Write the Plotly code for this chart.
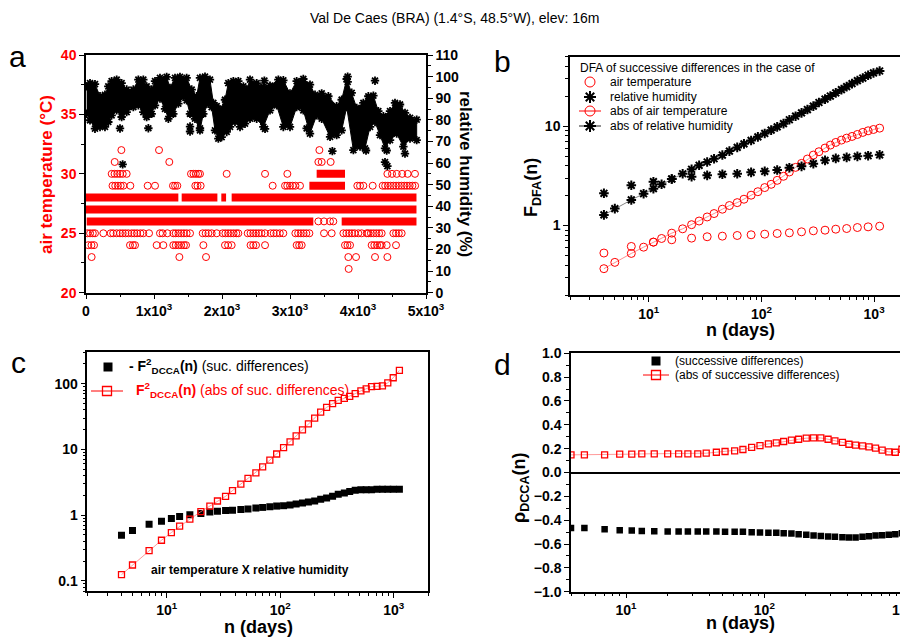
import numpy as np
import plotly.graph_objects as go

# the page adds an 8px body margin, so the figure is 8px smaller and every
# pixel position below is shifted by OFF
OFF = 8
W, H = 908 - OFF, 641 - OFF
FONT = "Liberation Sans, Arial, sans-serif"
RED = "#ff0000"

# ---------------- panel a : daily record ----------------
# long, nearly continuous rows of the temperature record: level -> (first day, last day)
temp_runs = {
    28: [(0, 1358), (1407, 1932), (1990, 2060), (2142, 4860)],
    27: [(0, 4860)],
    26: [(10, 3343), (3760, 4860)],
    29: [(3285, 3809)],
    30: [(3392, 3809)],
}
# isolated days away from the dense rows
temp_days = {
    32: [520, 1074, 3432],
    31: [422, 1225, 3417, 3466, 3598],
    30: [378, 420, 460, 500, 540, 598, 1544, 1580, 1615, 1650, 1676, 2069, 2633, 2961,
         4432, 4500, 4570, 4650, 4730, 4838],
    29: [390, 430, 470, 510, 549, 652, 907, 1015, 1279, 1310, 1343, 1608, 1640, 1686,
         2745, 2927, 2960, 3000, 3040, 3080, 3147, 3990, 4030, 4079, 4216,
         4363, 4400, 4440, 4480, 4520, 4560, 4600, 4640, 4680, 4720, 4760, 4800, 4840],
    26: [3417, 3500, 3588, 3637],
    25: [20, 60, 100, 132, 255, 363, 400, 451, 500, 540, 580, 622, 672, 710, 750, 800, 843,
         927, 1088, 1127, 1196, 1284, 1320, 1360, 1400, 1440, 1480, 1530, 1716, 1760, 1800,
         1848, 1922, 2010, 2050, 2090, 2130, 2170, 2210, 2240, 2378, 2420, 2460, 2500, 2540,
         2580, 2633, 2716, 2760, 2800, 2850, 2902, 3079, 3120, 3160, 3200, 3240, 3285, 3500,
         3613, 3785, 3830, 3870, 3910, 3950, 4005, 4054, 4128, 4152, 4190, 4230, 4270, 4310,
         4348, 4520, 4560, 4600, 4642],
    24: [34, 80, 118, 647, 690, 721, 1039, 1137, 1284, 1320, 1360, 1400, 1440, 1471, 1726,
         2044, 2090, 2142, 2420, 2460, 2500, 2633, 3098, 3135, 3172, 3809, 3845, 3883,
         4201, 4240, 4280, 4320, 4348, 4422, 4559],
    23: [83, 1373, 1765, 3858, 3971, 4250, 4432],
    22: [3863],
}

# relative humidity: upper and lower edge of the dense black band
rh_up_day = [10, 59, 132, 206, 279, 328, 377, 451, 524, 598, 696, 770, 843, 892, 966, 1015,
             1088, 1186, 1235, 1309, 1382, 1480, 1554, 1627, 1676, 1750, 1823, 1873, 1922,
             1970, 2044, 2093, 2167, 2240, 2314, 2363, 2412, 2510, 2608, 2706, 2829, 2902,
             3000, 3098, 3196, 3294, 3368, 3466, 3564, 3686, 3760, 3834, 3907, 3981, 4079,
             4152, 4226, 4299, 4373, 4471, 4544, 4618, 4691, 4765, 4863]
rh_up = [95.5, 97.0, 96.5, 90.9, 91.6, 95.5, 97.9, 98.6, 97.0, 94.0, 94.0, 98.6, 98.6, 95.5,
         94.0, 97.9, 99.4, 99.9, 94.8, 99.4, 99.9, 99.4, 94.0, 90.9, 99.4, 100.0, 98.6, 87.8,
         86.3, 84.7, 89.3, 97.0, 97.9, 97.9, 95.5, 94.0, 98.6, 97.0, 95.2, 95.8, 98.6, 98.3,
         92.2, 97.9, 98.9, 96.3, 91.6, 92.2, 90.9, 86.3, 89.3, 98.9, 92.5, 85.5, 87.8, 90.9,
         91.2, 84.0, 81.7, 84.0, 87.8, 87.1, 83.2, 80.9, 80.1]
rh_lo_day = [10, 59, 132, 206, 279, 328, 377, 451, 524, 598, 696, 770, 843, 892, 966, 1015,
             1088, 1162, 1211, 1284, 1358, 1431, 1480, 1529, 1603, 1676, 1725, 1799, 1848,
             1897, 1946, 1995, 2069, 2118, 2191, 2265, 2338, 2412, 2510, 2608, 2706, 2804,
             2902, 3000, 3098, 3196, 3294, 3392, 3466, 3589, 3686, 3760, 3834, 3932, 4030,
             4103, 4177, 4250, 4324, 4397, 4471, 4569, 4667, 4765, 4863]
rh_lo = [82.8, 79.8, 75.9, 76.7, 76.7, 79.0, 82.1, 84.4, 81.3, 83.6, 85.9, 86.7, 83.6, 81.3,
         82.8, 86.7, 89.8, 85.1, 80.5, 82.8, 87.5, 90.6, 89.0, 82.8, 80.5, 75.1, 82.8, 87.5,
         85.9, 75.1, 71.3, 72.0, 74.4, 76.7, 79.0, 76.7, 78.2, 80.5, 80.5, 76.7, 84.4, 86.7,
         76.7, 76.7, 85.9, 84.4, 73.6, 82.1, 80.5, 72.1, 72.9, 75.1, 85.9, 66.0, 67.6, 66.8,
         76.7, 79.0, 72.9, 66.8, 70.6, 73.6, 67.6, 71.3, 70.6]
# stray humidity days outside the band
rh_out_day = [500, 539, 917, 1530, 1530, 1676, 2623, 2633, 3245, 3623, 3848, 3848, 4118,
              4250, 4397, 4422, 4432, 4691]
rh_out = [76.0, 59.4, 76.1, 76.9, 74.6, 76.1, 98.1, 75.8, 76.0, 65.5, 100.0, 97.6, 65.8,
          98.1, 60.4, 65.8, 58.6, 64.4]

# ---------------- panels b, c, d : scales n (days) ----------------
n = [4, 5, 7, 9, 11, 13, 16, 20, 24, 28, 33, 38, 45, 52, 61, 70, 81, 93, 107, 122, 138, 157,
     177, 201, 227, 256, 289, 324, 367, 409, 457, 513, 571, 637, 711, 794, 885, 988, 1120]
n_half = n[::2]

dfa_abs_rh = [1.28, 1.48, 1.81, 2.09, 2.35, 2.60, 2.94, 3.32, 3.68, 4.04, 4.36, 4.70, 5.12,
              5.61, 6.11, 6.64, 7.18, 7.81, 8.44, 9.12, 9.84, 10.6, 11.6, 12.6, 13.6, 14.7,
              15.9, 17.3, 18.7, 20.1, 21.6, 23.3, 25.0, 26.8, 28.7, 30.5, 32.5, 34.3, 35.9]
dfa_abs_t = [0.368, 0.426, 0.524, 0.606, 0.681, 0.741, 0.838, 0.927, 1.02, 1.11, 1.22, 1.32,
             1.46, 1.59, 1.70, 1.84, 2.02, 2.19, 2.41, 2.60, 2.85, 3.13, 3.46, 3.85, 4.22,
             4.67, 5.12, 5.53, 6.02, 6.45, 6.86, 7.24, 7.58, 7.88, 8.25, 8.65, 8.98, 9.26, 9.55]
dfa_rh = [2.11, 2.54, 2.76, 2.94, 3.10, 3.20, 3.28, 3.32, 3.43, 3.51, 3.62, 3.82, 3.94, 4.19,
          4.53, 4.74, 4.85, 4.97, 5.04, 5.15]
dfa_t = [0.529, 0.616, 0.681, 0.719, 0.747, 0.771, 0.782, 0.794, 0.807, 0.819, 0.832, 0.845,
         0.865, 0.885, 0.898, 0.919, 0.933, 0.955, 0.970, 0.985]

f2_abs = [0.124, 0.174, 0.288, 0.414, 0.543, 0.679, 0.869, 1.13, 1.37, 1.64, 1.93, 2.36, 2.95,
          3.61, 4.40, 5.43, 6.88, 8.51, 10.6, 13.0, 16.0, 19.8, 24.5, 29.9, 37.0, 43.6, 49.6,
          55.7, 59.7, 64.1, 70.5, 77.6, 83.2, 90.3, 91.2, 92.4, 103, 123, 159]
f2_neg = [0.494, 0.583, 0.728, 0.809, 0.890, 0.955, 1.01, 1.06, 1.11, 1.14, 1.17, 1.19, 1.22,
          1.24, 1.28, 1.31, 1.34, 1.37, 1.39, 1.42, 1.47, 1.53, 1.58, 1.64, 1.74, 1.82, 1.93,
          2.07, 2.17, 2.28, 2.39, 2.42, 2.44, 2.44, 2.48, 2.48, 2.48, 2.48, 2.48]

rho_abs = [0.148, 0.148, 0.148, 0.154, 0.154, 0.156, 0.156, 0.156, 0.156, 0.156, 0.156, 0.162,
           0.170, 0.176, 0.181, 0.193, 0.210, 0.226, 0.240, 0.248, 0.260, 0.271, 0.279, 0.288,
           0.290, 0.290, 0.279, 0.265, 0.252, 0.237, 0.229, 0.223, 0.215, 0.204, 0.187, 0.173,
           0.170, 0.195, 0.229]
rho_suc = [-0.465, -0.465, -0.476, -0.484, -0.487, -0.490, -0.492, -0.495, -0.495, -0.495,
           -0.495, -0.495, -0.495, -0.498, -0.498, -0.498, -0.501, -0.503, -0.506, -0.506,
           -0.509, -0.512, -0.517, -0.523, -0.529, -0.532, -0.537, -0.540, -0.543, -0.545,
           -0.545, -0.540, -0.534, -0.529, -0.526, -0.523, -0.517, -0.509, -0.503]


def px(x, y):
    # screen pixel position -> paper coords (margins are zero)
    return (x - OFF) / W, 1 - (y - OFF) / H


fig = go.Figure()

# ---- a ----
up = list(zip(rh_up_day, rh_up))
lo = list(zip(rh_lo_day, rh_lo))
poly = up + lo[::-1]
fig.add_trace(go.Scatter(x=[p[0] for p in poly], y=[p[1] for p in poly], fill="toself",
                         fillcolor="black", mode="lines", line=dict(color="black", width=1),
                         xaxis="x", yaxis="y2"))
star = dict(symbol="asterisk-open", size=7, line=dict(width=1.8, color="black"), color="black")
fig.add_trace(go.Scatter(x=rh_up_day + rh_lo_day + rh_out_day, y=rh_up + rh_lo + rh_out,
                         mode="markers", marker=star, xaxis="x", yaxis="y2"))

bx, by = [], []
for lev, runs in temp_runs.items():
    for a, b in runs:
        bx += [a, b, None]
        by += [lev, lev, None]
fig.add_trace(go.Scatter(x=bx, y=by, mode="lines", line=dict(color=RED, width=8),
                         xaxis="x", yaxis="y"))
cx, cy = [], []
for lev, days in temp_days.items():
    cx += days
    cy += [lev] * len(days)
fig.add_trace(go.Scatter(x=cx, y=cy, mode="markers",
                         marker=dict(symbol="circle-open", size=7, color=RED, line=dict(width=1)),
                         xaxis="x", yaxis="y"))

# ---- b ----
circ = dict(symbol="circle-open", size=8, color=RED, line=dict(width=1))
star_b = dict(symbol="asterisk-open", size=8, color="black", line=dict(width=2, color="black"))
fig.add_trace(go.Scatter(x=n, y=dfa_abs_t, mode="lines+markers", marker=circ,
                         line=dict(color="#ff7070", width=0.8), xaxis="x2", yaxis="y3"))
fig.add_trace(go.Scatter(x=n, y=dfa_abs_rh, mode="lines+markers", marker=star_b,
                         line=dict(color="#666666", width=0.8), xaxis="x2", yaxis="y3"))
fig.add_trace(go.Scatter(x=n_half, y=dfa_t, mode="markers", marker=circ, xaxis="x2", yaxis="y3"))
fig.add_trace(go.Scatter(x=n_half, y=dfa_rh, mode="markers", marker=star_b, xaxis="x2", yaxis="y3"))

# ---- c ----
sq_open = dict(symbol="square-open", size=6, color=RED, line=dict(width=1.3))
sq_fill = dict(symbol="square", size=7, color="black")
fig.add_trace(go.Scatter(x=n, y=f2_neg, mode="markers", marker=sq_fill, xaxis="x3", yaxis="y4"))
fig.add_trace(go.Scatter(x=n, y=f2_abs, mode="lines+markers", marker=sq_open,
                         line=dict(color="#ff8080", width=0.8), xaxis="x3", yaxis="y4"))

# ---- d ----
fig.add_trace(go.Scatter(x=n, y=rho_suc, mode="markers", marker=dict(symbol="square", size=6.5,
                         color="black"), xaxis="x4", yaxis="y5"))
fig.add_trace(go.Scatter(x=n, y=rho_abs, mode="lines+markers", marker=sq_open,
                         line=dict(color="#ff8080", width=0.8), xaxis="x4", yaxis="y5"))


# ---- legend keys drawn on a pixel-space overlay ----
def key(x, y, marker, line=None, half=11):
    if line:
        fig.add_trace(go.Scatter(x=[x - half, x + half], y=[y, y], mode="lines", line=line,
                                 xaxis="x5", yaxis="y6", cliponaxis=False))
    fig.add_trace(go.Scatter(x=[x], y=[y], mode="markers", marker=marker,
                             xaxis="x5", yaxis="y6", cliponaxis=False))


key_sq = dict(symbol="square-open", size=9, color=RED, line=dict(width=1.3))
key(590, 82, dict(circ, size=10))
key(590, 97, dict(star_b, size=10))
key(590, 111, dict(circ, size=10), dict(color=RED, width=1))
key(590, 126, dict(star_b, size=10), dict(color="#555555", width=1.3))
key(108, 367, dict(symbol="square", size=9, color="black"))
key(107, 391, key_sq, dict(color=RED, width=1), half=16)
key(656, 361, dict(symbol="square", size=9, color="black"))
key(656, 375, key_sq, dict(color=RED, width=1), half=13)

ann = []


def text(x, y, s, size=12, color="black", bold=False, angle=0, xanchor="left"):
    X, Y = px(x, y)
    ann.append(dict(x=X, y=Y, xref="paper", yref="paper", text=s, showarrow=False,
                    textangle=angle, xanchor=xanchor, yanchor="middle",
                    font=dict(family=FONT, size=size, color=color,
                              weight="bold" if bold else "normal")))


text(454, 18, "Val De Caes (BRA) (1.4°S, 48.5°W), elev: 16m", 14, xanchor="center")
text(17, 57, "a", 30, xanchor="center")
text(502, 62, "b", 30, xanchor="center")
text(18, 362, "c", 30, xanchor="center")
text(502, 364, "d", 30, xanchor="center")

text(46, 175, "air temperature (°C)", 17, RED, True, -90, "center")
text(465, 174, "relative humidity (%)", 17, "black", True, 90, "center")
text(532, 188, "F<sub>DFA</sub>(n)", 18, "black", True, -90, "center")
text(521, 488, "ρ<sub>DCCA</sub>(n)", 18, "black", True, -90, "center")
text(740, 330, "n (days)", 18, bold=True, xanchor="center")
text(258, 627, "n (days)", 18, bold=True, xanchor="center")
text(740, 623, "n (days)", 18, bold=True, xanchor="center")

text(578, 68, "DFA of successive differences in the case of", 12)
text(608, 82, "air temperature", 12)
text(608, 97, "relative humidity", 12)
text(608, 111, "abs of air temperature", 12)
text(608, 126, "abs of relative humidity", 12)

text(127, 366, "<b>- F<sup>2</sup><sub>DCCA</sub>(n)</b> (suc. differences)", 14)
text(134, 390, "<b>F<sup>2</sup><sub>DCCA</sub>(n)</b> (abs of suc. differences)", 14, RED)
text(149, 570, "air temperature X relative humidity", 12, bold=True)

text(673, 361, "(successive differences)", 12)
text(673, 375, "(abs of successive differences)", 12)

tickfont = dict(family=FONT, size=14, color="black", weight="bold")
base = dict(showline=True, linecolor="black", linewidth=1.5, ticks="outside", ticklen=5,
            tickwidth=1.3, tickcolor="black", showgrid=False, zeroline=False,
            automargin=False, tickfont=tickfont, ticklabeloverflow="allow")
logminor = [m * 10 ** k for k in range(-2, 4) for m in range(2, 10)]
lmin = dict(tickvals=logminor, ticks="outside", ticklen=3, tickcolor="black", showgrid=False)
dec = dict(tickvals=[10, 100, 1000],
           ticktext=["10<sup>1</sup>", "10<sup>2</sup>", "10<sup>3</sup>"])


def dom_x(l, r):
    return [(l - OFF) / W, min((r - OFF) / W, 1.0)]


def dom_y(t, b):
    return [1 - (b - OFF) / H, 1 - (t - OFF) / H]


fig.update_layout(
    width=W, height=H, margin=dict(l=0, r=0, t=0, b=0), template="none",
    paper_bgcolor="white", plot_bgcolor="rgba(0,0,0,0)", showlegend=False,
    annotations=ann,
    xaxis=dict(base, domain=dom_x(86, 426), anchor="y", range=[0, 5000], mirror=True,
               tickvals=[0, 1000, 2000, 3000, 4000, 5000],
               ticktext=["0"] + ["%dx10<sup>3</sup>" % k for k in range(1, 6)],
               minor=dict(dtick=500, ticks="outside", ticklen=3, tickcolor="black")),
    yaxis=dict(base, domain=dom_y(55, 292.7), anchor="x", range=[20, 40], dtick=5,
               tickfont=dict(tickfont, color=RED),
               minor=dict(dtick=2.5, ticks="outside", ticklen=3, tickcolor="black")),
    yaxis2=dict(base, overlaying="y", side="right", anchor="x", range=[0, 110], dtick=10,
                minor=dict(dtick=5, ticks="outside", ticklen=3, tickcolor="black")),
    xaxis2=dict(base, **dec, domain=dom_x(570, 908.2), anchor="y3", type="log",
                range=[np.log10(2), np.log10(2000)], mirror=True, minor=lmin),
    yaxis3=dict(base, domain=dom_y(56.7, 295), anchor="x2", type="log",
                range=[np.log10(0.2), np.log10(50)], tickvals=[1, 10], ticktext=["1", "10"],
                minor=lmin),
    xaxis3=dict(base, **dec, domain=dom_x(87.3, 428), anchor="y4", type="log",
                range=[np.log10(2), np.log10(2000)], mirror=True, minor=lmin),
    yaxis4=dict(base, domain=dom_y(352.3, 591), anchor="x3", type="log", mirror=True,
                range=[np.log10(0.07), np.log10(300)], tickvals=[0.1, 1, 10, 100],
                ticktext=["0.1", "1", "10", "100"], minor=lmin),
    xaxis4=dict(base, **dec, domain=dom_x(571, 908), anchor="y5", type="log",
                range=[np.log10(4), np.log10(4) + (908 - 571) / 138.3], mirror=True,
                minor=lmin),
    yaxis5=dict(base, domain=dom_y(353.3, 591.7), anchor="x4", range=[-1, 1], dtick=0.2,
                tickformat=".1f", zeroline=True, zerolinecolor="black", zerolinewidth=2,
                minor=dict(dtick=0.1, ticks="outside", ticklen=3, tickcolor="black")),
    xaxis5=dict(domain=[0, 1], range=[OFF, W + OFF], visible=False, anchor="y6"),
    yaxis6=dict(domain=[0, 1], range=[H + OFF, OFF], visible=False, anchor="x5"),
)

fig.write_html("out.html")
